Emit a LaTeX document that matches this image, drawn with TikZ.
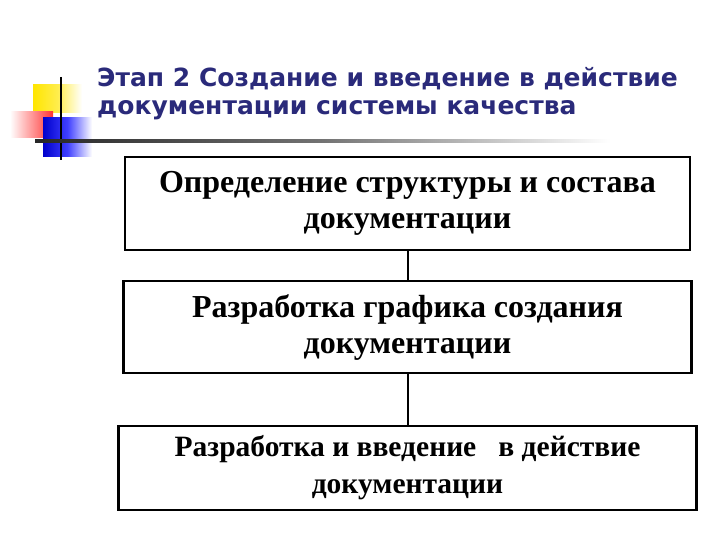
\documentclass[tikz,border=0pt]{standalone}
\usepackage{fontspec}
\setmainfont{Liberation Serif}
\newfontfamily\titlefont{DejaVu Sans}
\usepackage{tikz}
\usetikzlibrary{shapes,arrows}
\definecolor{titleblue}{RGB}{42,42,122}
\tikzstyle{blok} = [draw, line width=2.5pt, align=center, inner sep=0pt,
  font=\bfseries\fontsize{32}{36}\selectfont]
\tikzstyle{svyaz} = [line width=2pt]

\begin{document}
\begin{tikzpicture}[x=1pt,y=-1pt]
\useasboundingbox (0,0) rectangle (720,540);

% emblem
\shade[left color=yellow!80!orange, right color=white, middle color=yellow!80!orange!70]
  (33,85) rectangle (82,113);
\shade[left color=white, right color=red!80] (10,112) rectangle (53,138);
\shade[left color=blue!80!black, right color=white, middle color=blue!75]
  (43,118) rectangle (92,157);
\draw[line width=2pt] (61,77) -- (61,160);
\shade[left color=black!85, right color=white, middle color=black!55]
  (35,140) rectangle (610,143);

\node[anchor=north west, inner sep=0pt, align=left, text=titleblue,
  font=\titlefont\bfseries\fontsize{25}{28}\selectfont] (title) at (97,67)
  {Этап 2 Создание и введение в действие\\документации системы качества};

\node[blok, minimum width=565pt, minimum height=93pt] (opr) at (407.5,203.5)
  {Определение структуры и состава\\документации};
\node[blok, minimum width=568pt, minimum height=92pt, node distance=123.5pt]
  (graf) [below of = opr] {Разработка графика создания\\документации};
\node[blok, minimum width=578pt, minimum height=84pt, node distance=141pt,
  font=\bfseries\fontsize{29.5}{37}\selectfont]
  (vved) [below of = graf] {Разработка и введение \ \ в действие\\документации};

\draw[svyaz] (opr) -- (graf);
\draw[svyaz] (graf) -- (vved);

\end{tikzpicture}
\end{document}
